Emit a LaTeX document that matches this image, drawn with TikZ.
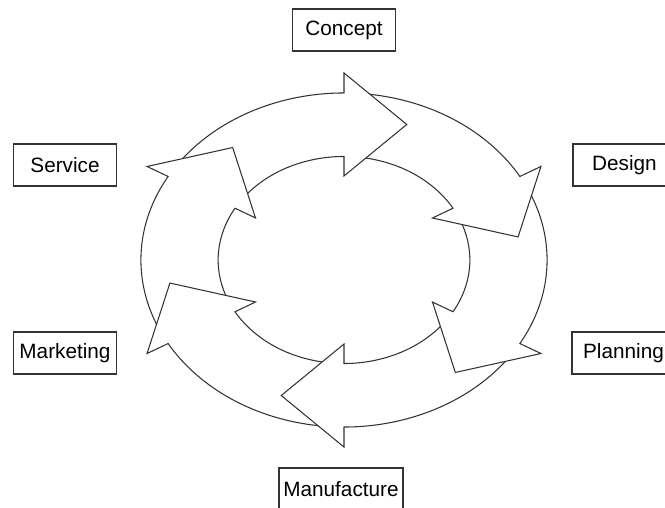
\documentclass[tikz,border=0pt]{standalone}
\usepackage{fontspec}
\setsansfont{Liberation Sans}
\usepackage{tikz}
\usetikzlibrary{calc,positioning}

\begin{document}
\begin{tikzpicture}[font=\sffamily\fontsize{11.8}{14}\selectfont]

        % Setup the styles for the boxes and the ring arrows
        \tikzset{box style/.style={draw=black!80,
                                   line width=0.7pt,
                                   minimum width=2.06cm,
                                   minimum height=0.84cm,
                                   inner sep=2.5pt},
                 ring style/.style={draw=black!80,
                                    line width=0.6pt,
                                    line join=miter}}

        % Fix the size of the page
        \clip (-6.88,-4.96) rectangle (6.42,5.2);

        % Draw the boxes
        \node[box style] at (0, 4.6)       (CONCEPT)  {Concept};
        \node[box style] at (5.61, 1.9)    (DESIGN)   {Design};
        \node[box style] at (5.59, -1.86)  (PLANNING) {Planning};
        \node[box style] at (-0.06, -4.58) (MANUF)    {Manufacture};
        \node[box style] at (-5.58, -1.86) (MARKET)   {Marketing};
        \node[box style] at (-5.58, 1.9)   (SERVICE)  {Service};

        % Draw the six arrows of the ring
        \begin{scope}[x=0.02432cm, y=0.02cm]
            \foreach \a in {90, 30, -30, -90, -150, 150}
                \draw[ring style]
                    (\a+52.63:167) arc[start angle=\a+52.63, end angle=\a, radius=167]
                    -- (\a:187) -- (\a-20.85:145) -- (\a:84) -- (\a:103.5)
                    arc[start angle=\a, end angle=\a+50.01, radius=103.5];
        \end{scope}
    \end{tikzpicture}
\end{document}
